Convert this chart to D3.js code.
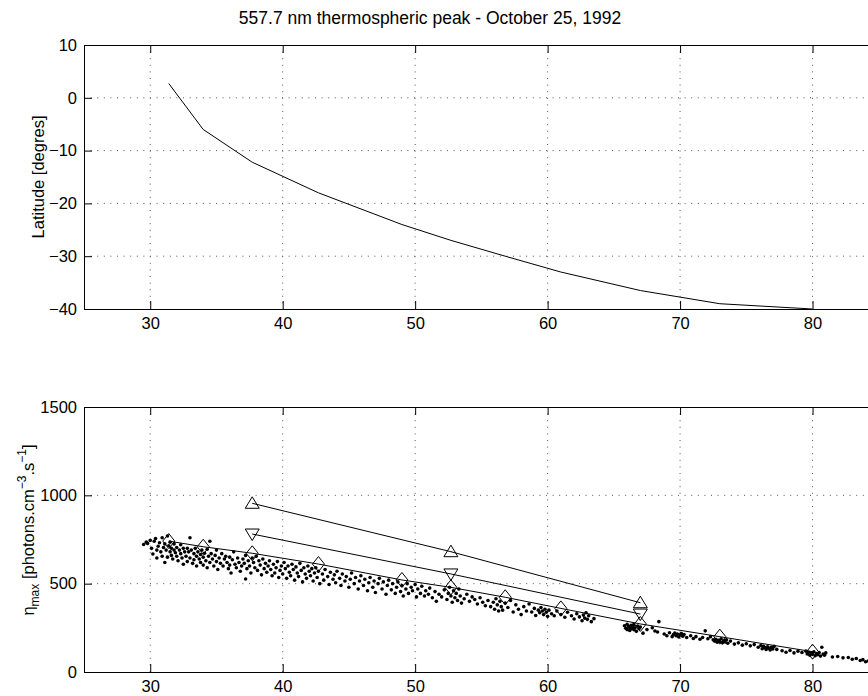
<!DOCTYPE html>
<html>
<head>
<meta charset="utf-8">
<script src="https://cdn.jsdelivr.net/npm/d3@7"></script>
<style>
  body { margin: 0; background: #fff; }
  svg { display: block; font-family: "Liberation Sans", Arial, Helvetica, sans-serif; }
</style>
</head>
<body>
<div class="container"></div>
<script>
// data
const xTicks = [30, 40, 50, 60, 70, 80];
const latTicks = [10, 0, -10, -20, -30, -40];
const etaTicks = [0, 500, 1000, 1500];

const passX = [31.4, 34.0, 37.7, 42.7, 49.0, 52.7, 56.8, 61.0, 67.0, 73.0, 80.0];
const latitude = [2.7, -6.0, -12.2, -18.0, -24.0, -27.0, -30.0, -33.0, -36.5, -39.0, -40.0];
const etaDiamond = [741, 709, 672, 611, 521, 479, 423, 360, 272, 200, 115];

const triX = [37.7, 52.7, 67.0];
const etaUp = [955, 681, 392];
const etaDown = [781, 555, 328];

const dots = [
  [29.5,722],[29.7,735],[29.8,728],[30.0,745],[30.1,700],[30.2,668],[30.3,740],[30.4,755],[30.5,690],[30.5,645],
  [30.6,712],[30.7,732],[30.8,680],[30.9,760],[30.9,655],[31.0,705],[31.1,725],[31.1,620],[31.2,690],[31.3,770],
  [31.3,650],[31.4,715],[31.5,680],[31.5,735],[31.6,700],[31.6,660],[31.7,640],[31.8,725],[31.8,690],[31.9,675],
  [32.0,705],[32.0,655],[32.1,630],[32.2,690],[32.3,670],[32.3,720],[32.4,645],[32.5,700],[32.5,610],[32.6,680],
  [32.7,655],[32.8,700],[32.8,625],[32.9,680],[33.0,645],[33.0,760],[33.1,690],[33.2,615],[33.3,670],[33.3,635],
  [33.4,700],[33.5,655],[33.5,600],[33.6,680],[33.7,640],[33.8,665],[33.8,620],[33.9,690],[34.0,650],[34.0,605],
  [34.1,672],[34.2,630],[34.3,695],[34.3,590],[34.4,655],[34.5,620],[34.5,740],[34.6,670],[34.7,640],[34.8,600],
  [34.9,660],[35.0,625],[35.0,690],[35.1,580],[35.2,645],[35.3,615],[35.4,670],[35.5,600],[35.6,640],[35.7,655],
  [35.8,620],[35.9,585],[36.0,650],[36.0,605],[36.1,560],[36.2,635],[36.3,680],[36.4,610],[36.5,590],[36.6,645],
  [36.7,620],[36.8,570],[36.9,600],[37.0,640],[37.1,615],[37.2,526],[37.2,660],[37.3,585],[37.4,630],[37.5,600],
  [37.6,560],[37.7,645],[37.8,620],[37.9,590],[38.0,655],[38.1,575],[38.2,630],[38.3,605],[38.4,550],[38.5,640],
  [38.6,585],[38.7,615],[38.8,565],[38.9,600],[39.0,630],[39.1,580],[39.2,545],[39.3,610],[39.4,560],[39.5,590],
  [39.6,625],[39.7,535],[39.8,575],[39.9,600],[40.0,555],[40.1,620],[40.2,585],[40.3,530],[40.4,600],[40.5,565],
  [40.6,545],[40.7,610],[40.8,580],[40.9,520],[41.0,595],[41.1,560],[41.2,540],[41.3,615],[41.4,575],[41.5,510],
  [41.6,590],[41.7,555],[41.8,530],[41.9,600],[42.0,570],[42.1,545],[42.2,585],[42.3,515],[42.4,560],[42.5,590],
  [42.6,535],[42.7,570],[42.8,500],[43.0,555],[43.1,520],[43.2,580],[43.4,540],[43.5,495],[43.6,565],[43.8,525],
  [43.9,550],[44.0,505],[44.1,570],[44.3,530],[44.4,490],[44.5,555],[44.7,515],[44.8,540],[45.0,480],[45.1,525],
  [45.2,560],[45.4,500],[45.5,535],[45.7,470],[45.8,515],[45.9,545],[46.1,490],[46.2,525],[46.4,460],[46.5,505],
  [46.6,535],[46.8,480],[46.9,515],[47.0,450],[47.2,500],[47.3,530],[47.5,470],[47.6,510],[47.8,440],[47.9,490],
  [48.0,520],[48.2,465],[48.3,500],[48.5,445],[48.6,480],[48.7,510],[48.9,455],[49.0,490],[49.1,430],[49.3,470],
  [49.4,500],[49.5,445],[49.7,480],[49.8,460],[50.0,495],[50.1,425],[50.2,470],[50.4,445],[50.5,485],[50.7,430],
  [50.8,460],[51.0,440],[51.1,475],[51.3,420],[51.5,455],[51.6,400],[51.8,440],[52.0,425],[52.2,465],[52.4,410],
  [52.5,445],[52.6,480],[52.7,430],[52.8,395],[52.9,460],[53.0,420],[53.1,445],[53.2,405],[53.3,470],[53.4,430],
  [53.5,390],[53.7,415],[53.9,440],[54.1,400],[54.3,425],[54.5,410],[54.7,385],[54.9,420],[55.1,395],[55.3,375],
  [55.5,405],[55.7,370],[55.9,395],[56.0,355],[56.1,415],[56.2,380],[56.3,345],[56.4,400],[56.5,370],[56.6,350],
  [56.8,390],[57.0,365],[57.2,405],[57.4,340],[57.6,380],[57.8,355],[58.0,325],[58.2,370],[58.4,345],[58.6,385],
  [58.8,340],[59.0,360],[59.1,320],[59.3,350],[59.4,335],[59.5,365],[59.6,345],[59.7,325],[59.8,355],[59.9,338],
  [60.0,315],[60.1,350],[60.3,330],[60.5,318],[60.7,345],[61.0,325],[61.3,310],[61.5,338],[61.8,318],[62.0,300],
  [62.2,330],[62.4,312],[62.6,290],[62.7,322],[62.8,305],[62.9,335],[63.0,298],[63.1,318],[63.3,285],[63.5,302],
  [65.8,262],[65.9,248],[66.0,270],[66.0,240],[66.1,258],[66.2,250],[66.2,235],[66.3,265],[66.3,245],[66.4,255],
  [66.5,240],[66.5,268],[66.6,250],[66.7,230],[66.8,260],[66.9,245],[67.0,255],[67.2,220],[67.5,240],[67.9,250],
  [68.1,232],[68.4,285],[68.3,226],[68.8,215],[69.0,205],[69.2,222],[69.4,200],[69.5,212],[69.6,220],[69.7,205],
  [69.8,215],[69.9,198],[70.0,210],[70.1,218],[70.2,203],[70.3,212],[70.5,195],[70.8,205],[71.0,190],[71.2,200],
  [71.5,185],[71.7,195],[71.9,233],[72.1,188],[72.3,200],[72.5,182],[72.6,175],[72.7,185],[72.8,168],[72.9,180],
  [73.0,172],[73.1,188],[73.2,165],[73.3,178],[73.4,170],[73.5,182],[73.6,163],[73.8,175],[74.1,158],[74.4,165],
  [74.7,152],[75.0,160],[75.3,148],[75.6,155],[75.9,140],[76.1,150],[76.2,132],[76.3,145],[76.4,138],[76.5,128],
  [76.6,142],[76.7,135],[76.8,125],[76.9,140],[77.0,130],[77.1,145],[77.3,128],[77.7,120],[78.0,112],[78.3,122],
  [78.6,108],[78.9,118],[79.2,110],[79.5,118],[79.6,102],[79.7,112],[79.8,95],[79.9,108],[80.0,100],[80.1,115],
  [80.2,92],[80.3,105],[80.4,98],[80.5,110],[80.6,90],[80.7,140],[80.8,102],[80.9,95],[81.0,108],[81.5,85],
  [81.9,88],[82.3,80],[82.7,82],[83.0,72],[83.3,76],[83.6,65],[83.8,70],[84.0,58],[84.2,62],[84.5,55]
];

const width = 868;
const height = 696;

const svg = d3.select(".container")
  .append("svg")
  .attr("width", width)
  .attr("height", height);

// both panels share the x range; the right end runs past the crop
const xScale = d3.scaleLinear().domain([25, 90]).range([84, 945]);

const topY = d3.scaleLinear().domain([-40, 10]).range([309, 45]);
const botY = d3.scaleLinear().domain([0, 1500]).range([672, 407]);

function drawPanel(yScale, yTicks, fmt) {
  const [y0, y1] = yScale.range();
  const g = svg.append("g");

  // dotted grid
  g.selectAll(".vgrid")
    .data(xTicks)
    .enter()
    .append("line")
    .attr("x1", d => xScale(d)).attr("x2", d => xScale(d))
    .attr("y1", y1).attr("y2", y0)
    .attr("stroke", "#555")
    .attr("stroke-width", 1)
    .attr("stroke-dasharray", "1,5.6");

  g.selectAll(".hgrid")
    .data(yTicks.filter(d => yScale(d) > y1 + 1 && yScale(d) < y0 - 1))
    .enter()
    .append("line")
    .attr("x1", 84).attr("x2", 945)
    .attr("y1", d => yScale(d)).attr("y2", d => yScale(d))
    .attr("stroke", "#555")
    .attr("stroke-width", 1)
    .attr("stroke-dasharray", "1,5.6");

  // axes with inward ticks
  g.append("g")
    .attr("transform", `translate(0, ${y0})`)
    .call(d3.axisBottom(xScale).tickValues(xTicks).tickSize(-8).tickPadding(8).tickSizeOuter(0))
    .call(a => a.selectAll("text").style("font-size", "16.5px").attr("fill", "#000"));

  g.append("g")
    .attr("transform", `translate(0, ${y1})`)
    .call(d3.axisTop(xScale).tickValues(xTicks).tickSize(-8).tickSizeOuter(0))
    .call(a => a.selectAll("text").remove());

  g.append("g")
    .attr("transform", `translate(84, 0)`)
    .call(d3.axisLeft(yScale).tickValues(yTicks).tickFormat(fmt).tickSize(-8).tickPadding(7).tickSizeOuter(0))
    .call(a => a.selectAll("text").style("font-size", "16.5px").attr("fill", "#000"));

  g.selectAll(".domain, .tick line").attr("stroke", "#000");
  return g;
}

drawPanel(topY, latTicks, d => d < 0 ? "\u2212" + Math.abs(d) : d);
drawPanel(botY, etaTicks, d => d);

// top panel: latitude of the peak
svg.append("path")
  .datum(passX.map((x, i) => [x, latitude[i]]))
  .attr("fill", "none")
  .attr("stroke", "#000")
  .attr("stroke-width", 1)
  .attr("d", d3.line().x(d => xScale(d[0])).y(d => topY(d[1])));

// bottom panel: scatter of measurements
svg.append("g")
  .selectAll("circle")
  .data(dots)
  .enter()
  .append("circle")
  .attr("cx", d => xScale(d[0]))
  .attr("cy", d => botY(d[1]))
  .attr("r", 1.8)
  .attr("fill", "#000");

const lineGen = d3.line().x(d => xScale(d[0])).y(d => botY(d[1]));

function drawSeries(xs, ys, symbol) {
  const pts = xs.map((x, i) => [x, ys[i]]);
  svg.append("path")
    .datum(pts)
    .attr("fill", "none")
    .attr("stroke", "#000")
    .attr("stroke-width", 1)
    .attr("d", lineGen);
  svg.append("g")
    .selectAll("path")
    .data(pts)
    .enter()
    .append("path")
    .attr("transform", d => `translate(${xScale(d[0])}, ${botY(d[1])})`)
    .attr("d", symbol)
    .attr("fill", "none")
    .attr("stroke", "#000")
    .attr("stroke-width", 1);
}

const diamond = "M0,-7.5L6,0L0,7.5L-6,0Z";
const triUp = "M0,-6.5L7,5L-7,5Z";
const triDown = "M0,6.5L7,-5L-7,-5Z";

drawSeries(passX, etaDiamond, diamond);
drawSeries(triX, etaUp, triUp);
drawSeries(triX, etaDown, triDown);

// title and labels
svg.append("text")
  .attr("x", 430)
  .attr("y", 24)
  .attr("text-anchor", "middle")
  .style("font-size", "17.5px")
  .text("557.7 nm thermospheric peak - October 25, 1992");

svg.append("text")
  .attr("transform", "translate(44, 177) rotate(-90)")
  .attr("text-anchor", "middle")
  .style("font-size", "16.5px")
  .text("Latitude [degres]");

const etaLabel = svg.append("text")
  .attr("transform", "translate(34, 530) rotate(-90)")
  .attr("text-anchor", "middle")
  .style("font-size", "16.5px");
etaLabel.append("tspan").text("\u03B7");
etaLabel.append("tspan").attr("dy", 5).style("font-size", "12px").text("max");
etaLabel.append("tspan").attr("dy", -5).text(" [photons.cm");
etaLabel.append("tspan").attr("dy", -8).style("font-size", "12px").text("\u22123");
etaLabel.append("tspan").attr("dy", 8).text(".s");
etaLabel.append("tspan").attr("dy", -8).style("font-size", "12px").text("\u22121");
etaLabel.append("tspan").attr("dy", 8).text("]");
</script>
</body>
</html>
